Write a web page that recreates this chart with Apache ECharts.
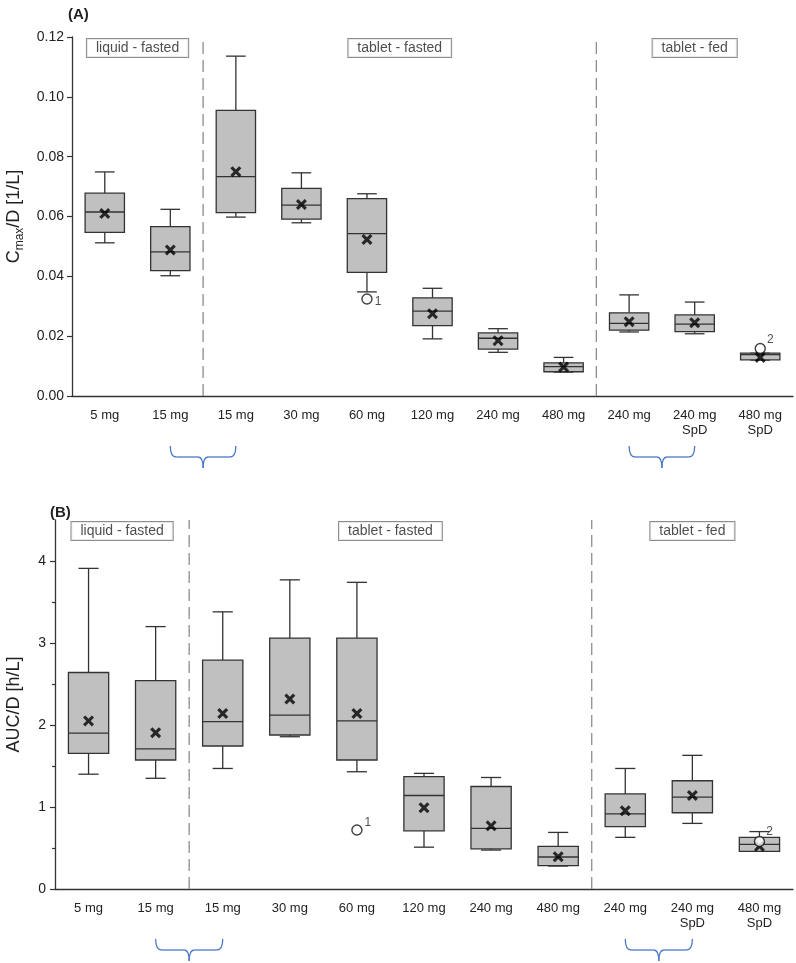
<!DOCTYPE html>
<html>
<head>
<meta charset="UTF-8">
<title>Cmax/D and AUC/D by dose</title>
<script src="https://cdn.jsdelivr.net/npm/echarts@6/dist/echarts.min.js"></script>
<style>
  html, body { margin: 0; padding: 0; background: #fff; }
  #main { width: 796px; height: 963px; }
</style>
</head>
<body>
<div id="main"></div>
<script>
// categories (shared by both panels)
var doses = ['5 mg', '15 mg', '15 mg', '30 mg', '60 mg', '120 mg', '240 mg', '480 mg', '240 mg', '240 mg\nSpD', '480 mg\nSpD'];

// groups: label, centre (category index), dividers between groups
var groupNames   = ['liquid - fasted', 'tablet - fasted', 'tablet - fed'];
var groupCenters = [0.5, 4.5, 9];
var dividers     = [1.5, 7.5];
var braces       = [[1, 2], [8, 9]];

// panel A: Cmax/D [1/L]
var cmaxMin  = [0.0512, 0.0402, 0.0598, 0.0579, 0.0348, 0.0191, 0.0146, 0.0080, 0.0214, 0.0208, 0.0120];
var cmaxQ1   = [0.0547, 0.0419, 0.0613, 0.0591, 0.0413, 0.0235, 0.0157, 0.0081, 0.0220, 0.0215, 0.0121];
var cmaxMed  = [0.0615, 0.0482, 0.0733, 0.0638, 0.0543, 0.0284, 0.0193, 0.0098, 0.0243, 0.0240, 0.0138];
var cmaxQ3   = [0.0678, 0.0566, 0.0955, 0.0694, 0.0660, 0.0328, 0.0211, 0.0111, 0.0278, 0.0271, 0.0143];
var cmaxMax  = [0.0749, 0.0624, 0.1136, 0.0746, 0.0676, 0.0360, 0.0225, 0.0129, 0.0338, 0.0314, 0.0143];
var cmaxMean = [0.0610, 0.0488, 0.0750, 0.0640, 0.0523, 0.0275, 0.0185, 0.0097, 0.0248, 0.0245, 0.0129];
var cmaxOutliers = [[4, 0.0324, '1'], [10, 0.0159, '2']];
var cmaxTicks = [0, 0.02, 0.04, 0.06, 0.08, 0.10, 0.12];

// panel B: AUC/D [h/L]
var aucMin  = [1.40, 1.35, 1.47, 1.857, 1.43, 0.51, 0.475, 0.28, 0.63, 0.80, 0.46];
var aucQ1   = [1.655, 1.573, 1.744, 1.878, 1.573, 0.71, 0.49, 0.285, 0.76, 0.93, 0.46];
var aucMed  = [1.90, 1.71, 2.04, 2.12, 2.05, 1.14, 0.74, 0.39, 0.915, 1.12, 0.545];
var aucQ3   = [2.64, 2.54, 2.79, 3.06, 3.06, 1.37, 1.25, 0.52, 1.16, 1.32, 0.63];
var aucMax  = [3.91, 3.20, 3.38, 3.77, 3.74, 1.41, 1.36, 0.69, 1.47, 1.63, 0.70];
var aucMean = [2.05, 1.906, 2.14, 2.317, 2.14, 0.99, 0.77, 0.394, 0.955, 1.14, 0.52];
var aucOutliers = [[4, 0.72, '1'], [10, 0.58, '2']];
var aucTicks = [0, 1, 2, 3, 4];
var aucMinorTicks = [0.5, 1.5, 2.5, 3.5];

var myChart = echarts.init(document.getElementById('main'));

var ink = '#333';
var txt = '#222';
var font = 'Liberation Sans, Arial, sans-serif';
var xMark = 'path://M0,2L2,0L5,3L8,0L10,2L7,5L10,8L8,10L5,7L2,10L0,8L3,5Z';

function boxRows(mn, q1, md, q3, mx) {
  var rows = [];
  for (var i = 0; i < mn.length; i++) {
    rows.push([i, mn[i], q1[i], md[i], q3[i], mx[i]]);
  }
  return rows;
}

// box, median, whiskers with short caps
function renderBox(params, api) {
  var x = api.value(0);
  var lo = api.coord([x, api.value(1)]);
  var q1 = api.coord([x, api.value(2)]);
  var md = api.coord([x, api.value(3)]);
  var q3 = api.coord([x, api.value(4)]);
  var hi = api.coord([x, api.value(5)]);
  var band = api.size([1, 0])[0];
  var bw = band * 0.6;
  var cw = band * 0.3;
  var cx = md[0];
  var st = { stroke: ink, lineWidth: 1.3 };
  return {
    type: 'group',
    children: [
      { type: 'line', shape: { x1: cx, y1: hi[1], x2: cx, y2: q3[1] }, style: st },
      { type: 'line', shape: { x1: cx - cw / 2, y1: hi[1], x2: cx + cw / 2, y2: hi[1] }, style: st },
      { type: 'line', shape: { x1: cx, y1: lo[1], x2: cx, y2: q1[1] }, style: st },
      { type: 'line', shape: { x1: cx - cw / 2, y1: lo[1], x2: cx + cw / 2, y2: lo[1] }, style: st },
      { type: 'rect', shape: { x: cx - bw / 2, y: q3[1], width: bw, height: q1[1] - q3[1] },
        style: { fill: '#c0c0c0', stroke: ink, lineWidth: 1.3 } },
      { type: 'line', shape: { x1: cx - bw / 2, y1: md[1], x2: cx + bw / 2, y2: md[1] }, style: st }
    ]
  };
}

function renderDivider(params, api) {
  var a = api.coord([api.value(0), api.value(1)]);
  var b = api.coord([api.value(0), api.value(2)]);
  return {
    type: 'line',
    shape: { x1: a[0], y1: a[1], x2: b[0], y2: b[1] },
    style: { stroke: '#8c8c8c', lineWidth: 1.3, lineDash: [12, 6] }
  };
}

// curly brace under the axis
function renderBrace(params, api) {
  var p1 = api.coord([api.value(0), 0]);
  var p2 = api.coord([api.value(1), 0]);
  var top = p1[1] + 50, mid = p1[1] + 61, tip = p1[1] + 72;
  var x1 = p1[0], x2 = p2[0], xc = (x1 + x2) / 2;
  var st = { stroke: '#4a78c8', lineWidth: 1.3, fill: null };
  return {
    type: 'group',
    children: [
      { type: 'bezierCurve', shape: { x1: x1, y1: top, cpx1: x1, cpy1: mid, x2: x1 + 6, y2: mid }, style: st },
      { type: 'line', shape: { x1: x1 + 6, y1: mid, x2: xc - 5, y2: mid }, style: st },
      { type: 'bezierCurve', shape: { x1: xc - 5, y1: mid, cpx1: xc, cpy1: mid, x2: xc, y2: tip }, style: st },
      { type: 'bezierCurve', shape: { x1: xc + 5, y1: mid, cpx1: xc, cpy1: mid, x2: xc, y2: tip }, style: st },
      { type: 'line', shape: { x1: xc + 5, y1: mid, x2: x2 - 6, y2: mid }, style: st },
      { type: 'bezierCurve', shape: { x1: x2, y1: top, cpx1: x2, cpy1: mid, x2: x2 - 6, y2: mid }, style: st }
    ]
  };
}

function panelSeries(p, mn, q1, md, q3, mx, means, outliers, yTop, outlierOffsets) {
  var catX = p * 2, valX = p * 2 + 1, yIdx = p === 0 ? 0 : 1;
  var groups = [], divs = [];
  for (var i = 0; i < groupNames.length; i++) groups.push([groupCenters[i], yTop, groupNames[i]]);
  for (var j = 0; j < dividers.length; j++) divs.push([dividers[j], 0, yTop]);
  return [
    {
      type: 'custom', xAxisIndex: valX, yAxisIndex: yIdx, z: 1, silent: true,
      renderItem: renderDivider, data: divs
    },
    {
      type: 'custom', xAxisIndex: catX, yAxisIndex: yIdx, z: 2,
      renderItem: renderBox, data: boxRows(mn, q1, md, q3, mx)
    },
    {
      type: 'scatter', xAxisIndex: catX, yAxisIndex: yIdx, z: 3,
      symbol: xMark, symbolSize: 11, itemStyle: { color: '#000' }, data: means
    },
    {
      type: 'scatter', xAxisIndex: catX, yAxisIndex: yIdx, z: 4,
      symbol: 'circle', symbolSize: 10,
      itemStyle: { color: '#fff', borderColor: '#111', borderWidth: 1.4 },
      data: outliers.map(function (o, k) {
        return {
          value: o,
          label: {
            show: true, position: 'right', distance: 2, offset: outlierOffsets[k],
            formatter: function (prm) { return prm.value[2]; },
            fontSize: 12, color: txt, fontFamily: font
          }
        };
      })
    },
    {
      type: 'scatter', xAxisIndex: valX, yAxisIndex: yIdx, z: 5, clip: false, silent: true,
      symbolSize: 0, data: groups,
      label: {
        show: true, position: 'bottom', distance: 2,
        formatter: function (prm) { return prm.value[2]; },
        fontSize: 14, color: txt, fontFamily: font,
        backgroundColor: '#fff', borderColor: '#707070', borderWidth: 1,
        padding: [2, 9, 2, 9]
      }
    },
    {
      type: 'custom', xAxisIndex: valX, yAxisIndex: yIdx, z: 5, clip: false, silent: true,
      renderItem: renderBrace, data: braces
    }
  ];
}

var catAxisBase = {
  type: 'category', data: doses, boundaryGap: true,
  axisLine: { onZero: false, lineStyle: { color: ink, width: 1.3 } },
  axisTick: { alignWithLabel: true, length: 5, lineStyle: { color: ink, width: 1.2 } },
  axisLabel: { color: txt, fontSize: 13, fontFamily: font, margin: 12, lineHeight: 15, interval: 0 },
  splitLine: { show: false }
};
var hiddenX = { type: 'value', min: -0.5, max: 10.5, show: false };

var option = {
  animation: false,
  backgroundColor: '#fff',
  title: [
    { text: '(A)', left: 63, top: 2, textStyle: { fontSize: 15, fontWeight: 'bold', color: txt, fontFamily: font } },
    { text: '(B)', left: 45, top: 500, textStyle: { fontSize: 15, fontWeight: 'bold', color: txt, fontFamily: font } }
  ],
  grid: [
    { left: 72, top: 37, width: 721, height: 359, outerBoundsMode: 'none', containLabel: false },
    { left: 55, top: 520, width: 738, height: 369, outerBoundsMode: 'none', containLabel: false }
  ],
  xAxis: [
    Object.assign({ gridIndex: 0 }, catAxisBase),
    Object.assign({ gridIndex: 0 }, hiddenX),
    Object.assign({ gridIndex: 1 }, catAxisBase),
    Object.assign({ gridIndex: 1 }, hiddenX)
  ],
  yAxis: [
    {
      type: 'value', gridIndex: 0, min: 0, max: 0.12, interval: 0.02, position: 'left',
      name: '{a|C}{b|max}{a|/D [1/L]}', nameLocation: 'middle', nameGap: 44, nameRotate: 90,
      nameTextStyle: {
        rich: {
          a: { fontSize: 18, color: txt, fontFamily: font, lineHeight: 24 },
          b: { fontSize: 12, color: txt, fontFamily: font, lineHeight: 24, verticalAlign: 'bottom' }
        }
      },
      axisLine: { show: true, onZero: false, lineStyle: { color: ink, width: 1.3 } },
      axisTick: { show: true, length: 5, lineStyle: { color: ink, width: 1.2 } },
      axisLabel: {
        color: txt, fontSize: 14, fontFamily: font, margin: 8,
        customValues: cmaxTicks,
        formatter: function (v) { return v.toFixed(2); }
      },
      splitLine: { show: false }
    },
    {
      type: 'value', gridIndex: 1, min: 0, max: 4.5, interval: 1, position: 'left',
      name: 'AUC/D [h/L]', nameLocation: 'middle', nameGap: 32, nameRotate: 90,
      nameTextStyle: { fontSize: 18, color: txt, fontFamily: font },
      axisLine: { show: true, onZero: false, lineStyle: { color: ink, width: 1.3 } },
      axisTick: { show: true, length: 5, customValues: aucTicks, lineStyle: { color: ink, width: 1.2 } },
      axisLabel: {
        color: txt, fontSize: 14, fontFamily: font, margin: 9,
        customValues: aucTicks,
        formatter: function (v) { return Number.isInteger(v) ? String(v) : ''; }
      },
      splitLine: { show: false }
    },
    {
      type: 'value', gridIndex: 1, min: 0, max: 4.5, interval: 0.5, position: 'left',
      axisLine: { show: false, onZero: false },
      axisTick: { show: true, length: 3, customValues: aucMinorTicks, lineStyle: { color: ink, width: 1.2 } },
      axisLabel: { show: false },
      splitLine: { show: false }
    }
  ],
  series: [].concat(
    panelSeries(0, cmaxMin, cmaxQ1, cmaxMed, cmaxQ3, cmaxMax, cmaxMean, cmaxOutliers, 0.12, [[0, 3], [-1, -9]]),
    panelSeries(1, aucMin, aucQ1, aucMed, aucQ3, aucMax, aucMean, aucOutliers, 4.5, [[0, -7], [-1, -10]])
  )
};

myChart.setOption(option);
</script>
</body>
</html>
